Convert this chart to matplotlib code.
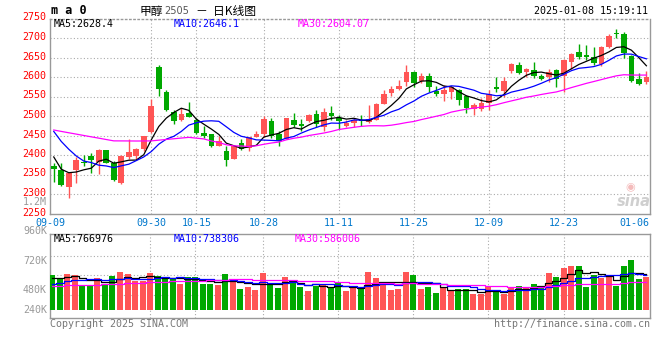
import numpy as np
import pandas as pd
import matplotlib
matplotlib.use('Agg')
import matplotlib.pyplot as plt
from matplotlib.transforms import ScaledTranslation

RED = '#ff5555'
GREEN = '#00a800'
GRID = '#aaaaaa'
EDGE = '#999999'
BLUE_TXT = '#0077cc'

plt.rcParams['font.family'] = ['DejaVu Sans Mono', 'Noto Sans CJK SC']

# daily bars, 2024-09-09 .. 2025-01-08
opens = [2372, 2362, 2319, 2362, 2383, 2397, 2383, 2413, 2379, 2327,
         2394, 2398, 2415, 2460, 2625, 2562, 2509, 2490, 2507, 2490,
         2457, 2454, 2424, 2411, 2391, 2430, 2417, 2447, 2454, 2487,
         2453, 2441, 2490, 2479, 2486, 2505, 2473, 2507, 2496, 2475,
         2481, 2491, 2485, 2491, 2531, 2560, 2568, 2586, 2614, 2591,
         2603, 2565, 2556, 2562, 2567, 2550, 2517, 2518, 2534, 2574,
         2565, 2616, 2631, 2612, 2618, 2603, 2601, 2618, 2603, 2638,
         2663, 2656, 2650, 2633, 2678, 2712, 2710, 2654, 2595, 2586]
highs = [2380, 2379, 2356, 2394, 2400, 2404, 2415, 2414, 2385, 2400,
         2440, 2417, 2450, 2544, 2631, 2567, 2515, 2520, 2536, 2494,
         2474, 2455, 2449, 2424, 2426, 2441, 2447, 2462, 2500, 2494,
         2462, 2495, 2507, 2492, 2505, 2515, 2520, 2526, 2503, 2490,
         2494, 2503, 2528, 2534, 2567, 2577, 2592, 2631, 2616, 2609,
         2609, 2577, 2580, 2577, 2568, 2554, 2534, 2545, 2567, 2601,
         2601, 2635, 2638, 2622, 2639, 2607, 2620, 2620, 2645, 2661,
         2685, 2682, 2676, 2680, 2710, 2722, 2716, 2656, 2609, 2615]
lows = [2332, 2320, 2291, 2329, 2373, 2355, 2351, 2379, 2334, 2326,
        2389, 2391, 2411, 2457, 2551, 2513, 2480, 2488, 2497, 2453,
        2443, 2421, 2423, 2373, 2390, 2413, 2411, 2445, 2445, 2443,
        2424, 2440, 2471, 2462, 2484, 2473, 2462, 2490, 2467, 2473,
        2473, 2475, 2481, 2490, 2530, 2551, 2567, 2577, 2575, 2584,
        2562, 2552, 2539, 2543, 2528, 2507, 2503, 2514, 2515, 2562,
        2550, 2609, 2608, 2601, 2597, 2592, 2586, 2574, 2562, 2620,
        2645, 2644, 2631, 2628, 2674, 2699, 2648, 2588, 2580, 2582]
closes = [2365, 2323, 2355, 2387, 2380, 2386, 2413, 2380, 2336, 2397,
          2407, 2415, 2449, 2526, 2568, 2515, 2486, 2505, 2498, 2457,
          2449, 2424, 2436, 2386, 2424, 2415, 2445, 2454, 2492, 2450,
          2437, 2494, 2477, 2474, 2503, 2480, 2511, 2501, 2487, 2481,
          2491, 2488, 2492, 2531, 2556, 2569, 2577, 2614, 2584, 2603,
          2574, 2556, 2567, 2574, 2541, 2521, 2528, 2534, 2556, 2568,
          2590, 2633, 2611, 2620, 2603, 2596, 2612, 2594, 2644, 2659,
          2652, 2652, 2635, 2678, 2705, 2709, 2661, 2591, 2582, 2601]
# volume in thousand lots
volume_k = [742, 658, 763, 735, 519, 519, 679, 533, 721, 805,
            763, 623, 623, 784, 721, 658, 658, 554, 694, 694,
            554, 554, 533, 763, 637, 449, 491, 428, 784, 568,
            470, 700, 602, 497, 414, 518, 560, 464, 568, 414,
            464, 449, 805, 679, 602, 428, 449, 805, 735, 443,
            485, 366, 477, 408, 443, 443, 345, 345, 485, 428,
            345, 470, 512, 477, 554, 512, 790, 700, 888, 930,
            930, 491, 742, 686, 714, 512, 930, 1055, 658, 700]
# closes / volumes of the 29 days before the window (only feed the moving averages)
prev_close = [2430, 2460, 2490, 2485, 2490, 2515, 2485, 2440, 2400, 2410,
              2420, 2445, 2520, 2514, 2461, 2431, 2451, 2444, 2517, 2509,
              2580, 2555, 2560, 2510, 2425, 2480, 2400, 2378, 2352]
prev_vol_k = [520, 470, 455, 510, 540, 480, 430, 465, 505, 530,
              495, 450, 470, 520, 560, 475, 445, 490, 500, 510,
              410, 455, 430, 470, 410, 620, 690, 640, 673]

tick_pos = [0, 13, 19, 28, 38, 48, 58, 68, 77]
tick_labels = ['09-09', '09-30', '10-15', '10-28', '11-11', '11-25', '12-09', '12-23', '01-06']
price_ticks = list(range(2250, 2751, 50))

o = np.array(opens); h = np.array(highs); l = np.array(lows); c = np.array(closes)
vol = np.array(volume_k) * 1000
n = len(c)
x = np.arange(n)

cs = pd.Series(prev_close + closes)
vs = pd.Series(prev_vol_k + volume_k) * 1000
ma = {k: cs.rolling(k).mean().values[-n:] for k in (5, 10, 30)}
vma = {k: vs.rolling(k).mean().values[-n:] for k in (5, 10, 30)}

W, H = 660, 360
FS = 7.2

def box(left, top, right, bottom):
    return [left / W, 1 - bottom / H, (right - left) / W, (bottom - top) / H]

def ftext(px, py, s, **kw):
    kw.setdefault('fontsize', FS)
    kw.setdefault('va', 'center')
    fig.text(px / W, 1 - py / H, s, **kw)

fig = plt.figure(figsize=(6.6, 3.6), dpi=100)
ax = fig.add_axes(box(50, 18.5, 650, 213.5))
axv = fig.add_axes(box(50, 234.3, 650, 318.3))

colours = np.where(c >= o, RED, GREEN)

# candles
ax.vlines(x, l, h, colors=colours, lw=1.0, zorder=3)
body = np.maximum(np.abs(c - o), 1.5)
ax.bar(x, body, bottom=np.minimum(o, c), width=0.74, color=colours, lw=0, zorder=3)
ax.plot(x, ma[5], color='black', lw=0.9, zorder=4)
ax.plot(x, ma[10], color='#0000ff', lw=0.9, zorder=4)
ax.plot(x, ma[30], color='#ff00ff', lw=0.9, zorder=4)

ax.set_xlim(-0.31, 79.48)
ax.set_ylim(2250, 2750)
ax.set_yticks(price_ticks)
ax.tick_params(axis='y', length=0, pad=3, labelcolor='red', labelsize=FS)
# sina puts the price labels a little above their grid line
for lbl in ax.get_yticklabels():
    lbl.set_transform(lbl.get_transform() + ScaledTranslation(0, 2 / 100, fig.dpi_scale_trans))
ax.set_xticks([p + (-0.5 if p == 0 else 0.4 if p == 77 else 0) for p in tick_pos], tick_labels)
ax.tick_params(axis='x', length=0, pad=3, labelcolor=BLUE_TXT, labelsize=FS)
for yv in price_ticks[1:-1]:
    ax.axhline(yv, color=GRID, lw=0.8, ls=(0, (1, 2)), zorder=1)

# volume
axv.bar(x, vol, width=0.8, color=colours, lw=0, zorder=3)
axv.plot(x, vma[5], color='black', lw=0.9, drawstyle='steps-mid', zorder=4)
axv.plot(x, vma[10], color='#0000ff', lw=0.9, drawstyle='steps-mid', zorder=4)
axv.plot(x, vma[30], color='#ff00ff', lw=0.9, drawstyle='steps-mid', zorder=4)
axv.set_xlim(-0.31, 79.48)
axv.set_ylim(-163e3, 1592e3)
axv.set_xticks([]); axv.set_yticks([])
for yv in (324e3, 736e3, 1145e3):
    axv.axhline(yv, color=GRID, lw=0.8, ls=(0, (1, 2)), zorder=1)

for a in (ax, axv):
    for p in tick_pos[1:-1]:
        a.axvline(p, color=GRID, lw=0.8, ls=(0, (1, 2)), zorder=1)
    for s in a.spines.values():
        s.set_color(EDGE)
        s.set_linewidth(1.0)
ax.spines['top'].set_linestyle((0, (1, 2)))

# header
ftext(51, 11, 'm a 0', fontsize=8.5, fontweight='bold')
ftext(140, 11, '甲醇', family='Noto Sans CJK SC', fontsize=8.5)
ftext(164, 11, '2505', family='DejaVu Sans', color='#555555', fontsize=7)
ftext(196, 11, '－  日K线图', family='Noto Sans CJK SC', fontsize=8.5)
ftext(648, 11, '2025-01-08 15:19:11', ha='right')

ftext(54, 24, 'MA5:2628.4', color='black')
ftext(174, 24, 'MA10:2646.1', color='#0000ff')
ftext(298, 24, 'MA30:2604.07', color='#ff00ff')

ftext(54, 239, 'MA5:766976', color='black')
ftext(174, 239, 'MA10:738306', color='#0000ff')
ftext(295, 239, 'MA30:586006', color='#ff00ff')

for lab, py in (('1.2M', 202), ('960K', 231), ('720K', 261), ('480K', 290), ('240K', 310)):
    ftext(47, py, lab, color='#999999', ha='right')

ftext(50, 324, 'Copyright 2025 SINA.COM', color='#777777')
ftext(650, 324, 'http://finance.sina.com.cn', color='#777777', ha='right')

# watermark
ftext(630, 187, '◉', family='DejaVu Sans', fontsize=8, color='#f4bcbc', ha='center')
ftext(634, 202, 'sina', family='DejaVu Sans', fontsize=10.5, fontweight='bold', style='italic',
      color='#cfcfcf', ha='center')

fig.savefig('out.png', dpi=100)
